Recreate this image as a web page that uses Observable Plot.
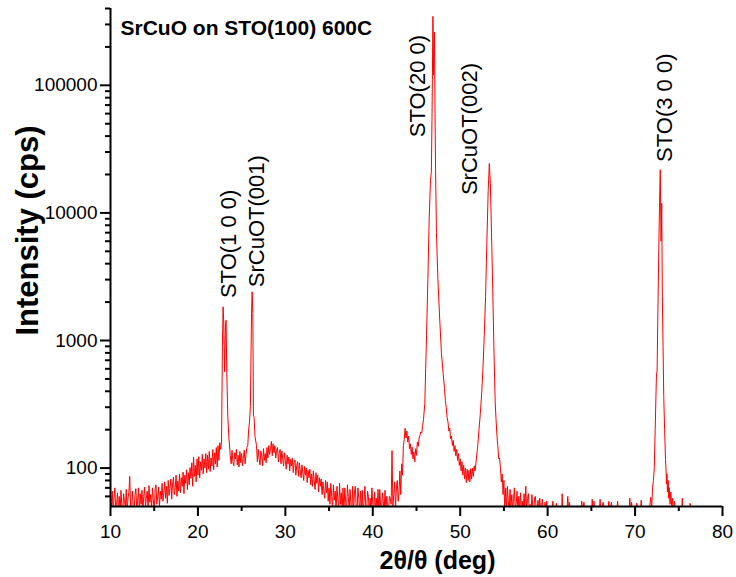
<!DOCTYPE html>
<html><head><meta charset="utf-8">
<script src="https://cdn.jsdelivr.net/npm/d3@7"></script>
<script src="https://cdn.jsdelivr.net/npm/@observablehq/plot@0.6"></script>
<style>body{margin:0;background:#fff}</style>
</head><body><div id="chart"></div>
<script>
// XRD scan: 2θ (deg) vs intensity (cps). Values < 50 sit below the axis floor.
// Noisy background stretches are step scans (0.1° step) listed as intensities from a start angle.
const scanStep = 0.1;
const bgLowStart = 10.0;
const bgLowCps = [62,48,66,45,58,70,47,52,64,45, 60,46,67,50,45,63,55,48,68,45, 58,64,86,50,47,66,52,45,61,69, 48,55,70,46,63,52,67,45,60,71, 50,58,66,47,73,54,62,49,70,56, 45,68,74,52,60,71,50,66,57,76, 55,64,78,58,72,53,80,61,69,82, 57,75,85,62,70,88,60,79,66,90, 64,84,72,93,63,88,76,97,68,92, 74,101,83,110,72,122,86,105,78,118, 88,123,84,112,96,128,90,118,100,130, 92,126,98,135,94,120,104,140,97,132, 108,145,102,150,115,158];
const peakSTO100 = [[22.6,140],[22.7,160],[22.8,900],[22.88,1836],[22.95,1400],[23.05,570],[23.15,1300],[23.22,1440],[23.3,560],[23.42,250],[23.55,170],[23.7,125]];
const bgMid1Start = 23.8;
const bgMid1Cps = [108,138,112,104,132,118,140,106,126,102,135,110,130,104,122,138,108,128,145];
const peakSrCuOT001 = [[25.7,150],[25.8,199],[25.9,230],[26.0,303],[26.13,1620],[26.2,2408],[26.28,1620],[26.35,260],[26.42,250],[26.53,176],[26.7,150]];
const bgMid2Start = 26.8;
const bgMid2Cps = [112,140,118,106,136,124,104,142,115,130, 110,145,120,150,128,140,162,125,155,132, 150,120,138,145,112,130,140,108,136,118, 104,132,115,98,126,108,122,95,117,104, 120,92,110,116,88,105,112,86,110,95, 84,106,92,80,103,88,100,77,96,84, 98,74,90,72,95,80,68,92,76,88, 65,84,72,82,62,78,66,58,80,64, 78,55,70,52,76,60,48,74,56,66, 46,72,58,45,76,52,64,48,70,45, 70,54,45,74,60,47,68,52,45,72, 45,64,72,50,46,70,58,45,66,48, 67,45,55,72,49,45,66,60,45,58, 45,70,52,45,65,48,58,46,68,45, 68,50,45,64,55,45,67,48,60,45, 46,60,58,52,137,50,62,78,48,70, 80,55,65,95,62];
const hump44 = [[43.3,108],[43.4,88],[43.5,150],[43.6,168],[43.7,205],[43.8,172],[43.9,195],[44.0,160],[44.1,178],[44.2,142],[44.3,155],[44.4,128],[44.5,146],[44.6,118],[44.7,134],[44.8,112],[44.9,142],[45.0,126],[45.1,160],[45.2,148],[45.3,172],[45.4,180],[45.5,192],[45.6,188],[45.7,215],[45.8,240]];
const peakSTO200 = [[45.95,320],[46.05,600],[46.15,1100],[46.3,3000],[46.45,9000],[46.6,18000],[46.7,21000],[46.78,60000],[46.88,347000],[46.95,120000],[47.05,261000],[47.12,60000],[47.18,22000],[47.28,7000],[47.45,3000],[47.65,1500],[47.85,800],[48.05,550],[48.2,420],[48.3,340],[48.4,300],[48.5,250],[48.6,230],[48.7,195],[48.8,205],[48.9,170],[49.0,178]];
const bgValley = [[49.1,150],[49.2,165],[49.3,135],[49.4,150],[49.5,125],[49.6,140],[49.7,115],[49.8,130],[49.9,105],[50.0,118],[50.1,95],[50.2,112],[50.3,88],[50.4,105],[50.5,82],[50.6,100],[50.7,77],[50.8,98],[50.9,80],[51.0,96],[51.1,78],[51.2,99],[51.3,82],[51.4,100],[51.5,86],[51.6,104],[51.7,95]];
const peakSrCuOT002 = [[51.8,110],[52.0,148],[52.15,200],[52.3,268],[52.45,380],[52.6,600],[52.75,1100],[52.9,2200],[53.05,6000],[53.2,15000],[53.33,24400],[53.45,17000],[53.58,7000],[53.72,2500],[53.85,900],[54.0,330],[54.1,240],[54.2,180],[54.3,150],[54.4,118],[54.5,120],[54.6,100],[54.7,78],[54.8,90],[54.9,62],[55.0,80]];
const bgHighStart = 55.1;
const bgHighCps = [45,70,48,72,55,45,68,50,62,46, 58,70,45,52,66,45,60,47,64,45, 55,45,63,49,72,46,58,63,45,52, 45,62,50,45,58,60,45,47,56,45, 58,45,50,57,45,45,54,45,55,45];
const bgSparse = [[60.5,45],[60.6,55],[60.7,45],[60.9,45],[61.0,53],[61.1,45],[61.6,45],[61.66,63],[61.75,45],[62.2,45],[62.3,60],[62.4,45],[62.5,54],[62.6,45],[63.8,45],[63.9,55],[64.0,45],[64.15,54],[64.25,45],[65.0,45],[65.1,57],[65.2,45],[65.3,55],[65.4,45],[65.9,45],[66.0,57],[66.1,45],[66.35,54],[66.45,45],[66.9,45],[67.0,55],[67.1,45],[67.3,54],[67.4,45],[67.9,45],[68.0,55],[68.1,45],[69.3,45],[69.4,58],[69.5,45],[69.6,54],[69.7,45],[70.1,45],[70.2,53],[70.3,45],[70.6,45],[70.7,56],[70.8,45],[71.6,45]];
const peakSTO300 = [[71.7,52],[71.8,59],[71.9,48],[72.0,70],[72.1,80],[72.2,101],[72.3,200],[72.4,400],[72.45,552],[72.52,575],[72.6,1500],[72.7,4500],[72.8,12000],[72.88,21800],[72.97,6000],[73.05,11900],[73.12,2200],[73.2,900],[73.28,364],[73.38,200],[73.48,117],[73.55,95],[73.6,75],[73.65,90],[73.7,65],[73.8,80],[73.85,58],[73.9,70],[74.0,52],[74.1,65],[74.2,48],[74.3,58],[74.4,45],[74.5,55],[74.6,45]];
const bgTail = [[75.35,45],[75.4,58],[75.45,45],[76.25,45],[76.3,53],[76.35,45],[80.0,45]];

const peakLabels = [
  {label: "STO(1 0 0)", x: 23.5, y: 2150},
  {label: "SrCuOT(001)", x: 26.8, y: 2620},
  {label: "STO(20 0)", x: 45.2, y: 39200},
  {label: "SrCuOT(002)", x: 51.1, y: 13800},
  {label: "STO(3 0 0)", x: 73.4, y: 25100}
];
const xMajor = [10, 20, 30, 40, 50, 60, 70, 80];
const xMinor = [15, 25, 35, 45, 55, 65, 75];
const yMajor = [100, 1000, 10000, 100000];
const yMinor = [60, 70, 80, 90, 200, 300, 400, 500, 600, 700, 800, 900, 2000, 3000, 4000, 5000, 6000, 7000, 8000, 9000, 20000, 30000, 40000, 50000, 60000, 70000, 80000, 90000, 200000, 300000, 400000];
const title = "SrCuO on STO(100) 600C";
const xLabel = "2θ/θ (deg)";
const yLabel = "Intensity (cps)";

const stepped = (start, cps) => cps.map((c, i) => [Math.round((start + i * scanStep) * 100) / 100, c]);
const scan = [
  ...stepped(bgLowStart, bgLowCps), ...peakSTO100,
  ...stepped(bgMid1Start, bgMid1Cps), ...peakSrCuOT001,
  ...stepped(bgMid2Start, bgMid2Cps), ...hump44, ...peakSTO200, ...bgValley, ...peakSrCuOT002,
  ...stepped(bgHighStart, bgHighCps), ...bgSparse, ...peakSTO300, ...bgTail
].map(([t, c]) => ({t, c}));

const chart = Plot.plot({
  width: 736, height: 577,
  marginLeft: 110, marginRight: 14, marginTop: 8, marginBottom: 71,
  style: {fontFamily: "'Liberation Sans', Arial, sans-serif", background: "white", color: "black", overflow: "visible"},
  x: {domain: [10, 80]},
  y: {type: "log", domain: [50, 400000]},
  marks: [
    Plot.line(scan, {x: "t", y: "c", stroke: "#ff0000", strokeWidth: 1, clip: true}),
    Plot.axisX({ticks: xMajor, tickSize: 10, tickPadding: 8, fontSize: 19, strokeWidth: 2, tickFormat: d => String(d), label: null}),
    Plot.axisX({ticks: xMinor, tickSize: 5, strokeWidth: 2, tickFormat: () => "", label: null}),
    Plot.axisY({ticks: yMajor, tickSize: 10, tickPadding: 3, fontSize: 19, strokeWidth: 2, tickFormat: d => String(d), label: null}),
    Plot.axisY({ticks: yMinor, tickSize: 5, strokeWidth: 2, tickFormat: () => "", label: null}),
    Plot.ruleX([10], {stroke: "black", strokeWidth: 2}),
    Plot.ruleY([50], {stroke: "black", strokeWidth: 2}),
    Plot.text(peakLabels, {x: "x", y: "y", text: "label", rotate: -90, textAnchor: "start", lineAnchor: "middle", fontSize: 22, fill: "black"}),
    Plot.text([title], {frameAnchor: "top-left", dx: 10, dy: 12, lineAnchor: "top", textAnchor: "start", fontWeight: "bold", fontSize: 21, fill: "black"}),
    Plot.text([xLabel], {frameAnchor: "bottom", dx: 21, dy: 54, lineAnchor: "middle", fontWeight: "bold", fontSize: 25, fill: "black"}),
    Plot.text([yLabel], {frameAnchor: "left", dx: -82, dy: -27, rotate: -90, textAnchor: "middle", lineAnchor: "middle", fontWeight: "bold", fontSize: 31, fill: "black"})
  ]
});
document.getElementById("chart").appendChild(chart);
</script>
</body></html>
